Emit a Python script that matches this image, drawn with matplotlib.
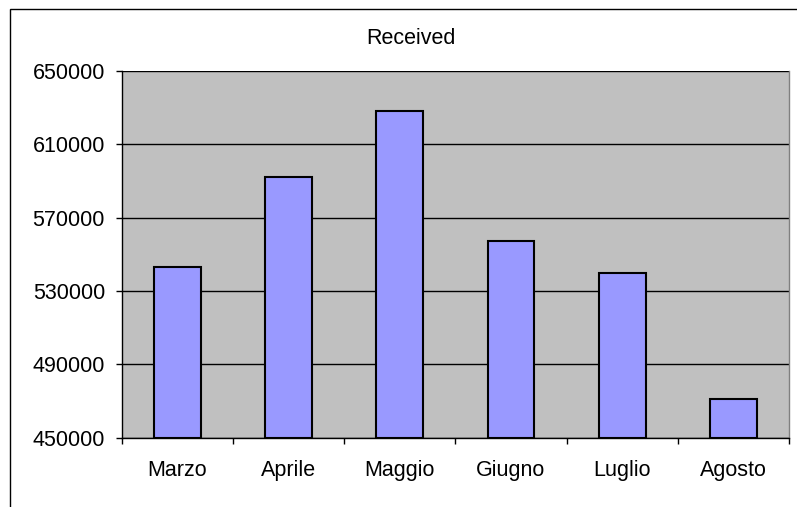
import matplotlib.pyplot as plt
from matplotlib.patches import Rectangle
from matplotlib.ticker import FixedLocator, NullFormatter

plt.rcParams["font.family"] = ["Liberation Sans", "DejaVu Sans"]

MONTHS = ["Marzo", "Aprile", "Maggio", "Giugno", "Luglio", "Agosto"]
RECEIVED = [543000, 592000, 628000, 557500, 539700, 471000]
Y_TICKS = [450000, 490000, 530000, 570000, 610000, 650000]
TITLE = "Received"


def main():
    fig = plt.figure(figsize=(7.97, 5.07), dpi=100)
    ax = fig.add_axes([0.1527, 0.1367, 0.8373, 0.7233])

    # chart area frame, runs off the right and bottom of the picture
    fig.patches.append(Rectangle((10 / 797, -0.1), 1.2, 1 - 9 / 507 + 0.1,
                                 transform=fig.transFigure, fill=False,
                                 edgecolor="black", linewidth=1.0))

    x = list(range(len(MONTHS)))
    ax.set_facecolor("#C0C0C0")
    ax.bar(x, [v - Y_TICKS[0] for v in RECEIVED], bottom=Y_TICKS[0], width=0.42,
           color="#9999FF", edgecolor="black", linewidth=1.5, zorder=3)

    ax.set_xlim(-0.5, len(MONTHS) - 0.5)
    ax.set_ylim(Y_TICKS[0], Y_TICKS[-1])
    ax.set_yticks(Y_TICKS)
    ax.set_yticklabels([str(t) for t in Y_TICKS])
    ax.grid(True, axis="y", color="black", linewidth=1.0, zorder=1)
    ax.set_axisbelow(True)

    ax.set_xticks(x)
    ax.set_xticklabels(MONTHS)
    ax.xaxis.set_minor_locator(FixedLocator([i - 0.5 for i in range(len(MONTHS) + 1)]))
    ax.xaxis.set_minor_formatter(NullFormatter())
    ax.tick_params(axis="x", which="major", length=0, pad=16, labelsize=15.5)
    ax.tick_params(axis="x", which="minor", length=4.5, width=1.0, direction="out")
    ax.tick_params(axis="y", length=4.5, width=1.0, pad=7.5, labelsize=15.5)

    for side in ("left", "bottom"):
        ax.spines[side].set_color("black")
        ax.spines[side].set_linewidth(1.0)
    ax.spines["top"].set_visible(False)
    ax.spines["right"].set_color("#808080")
    ax.spines["right"].set_linewidth(1.0)

    fig.text(411 / 797, 1 - 39 / 507, TITLE, ha="center", va="center", fontsize=15.5)

    fig.savefig("out.png", dpi=100)


if __name__ == "__main__":
    main()
